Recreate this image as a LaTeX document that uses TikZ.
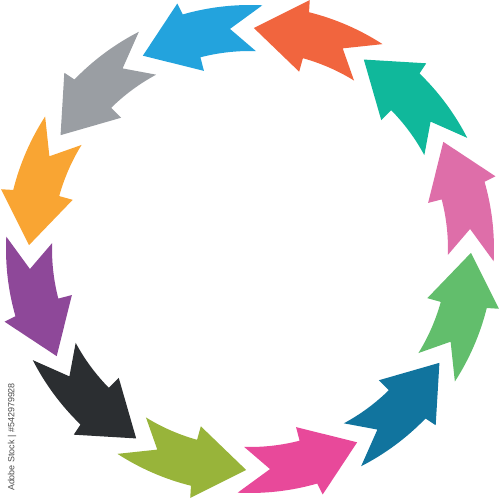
\documentclass[tikz,border=0pt]{standalone}
\usepackage{fontspec}
\setsansfont{Liberation Sans}

\definecolor{cOrchid}{RGB}{222,110,169}
\definecolor{cTeal}{RGB}{16,184,155}
\definecolor{cOrange}{RGB}{241,101,62}
\definecolor{cSky}{RGB}{35,163,221}
\definecolor{cGray}{RGB}{154,158,163}
\definecolor{cAmber}{RGB}{249,165,51}
\definecolor{cPurple}{RGB}{142,72,153}
\definecolor{cDark}{RGB}{43,46,49}
\definecolor{cOlive}{RGB}{152,180,58}
\definecolor{cMagenta}{RGB}{232,73,154}
\definecolor{cPetrol}{RGB}{17,116,158}
\definecolor{cGreen}{RGB}{98,190,108}

\begin{document}
\begin{tikzpicture}[x=0.02cm, y=0.02cm]
	\def\rin{198}
	\def\rout{244}
	\def\rmid{221}
	
	\useasboundingbox (-250,-250) rectangle (250,249);

	% Draw arrows (counterclockwise)
	\foreach \col [count=\i] in {cOrchid,cTeal,cOrange,cSky,cGray,cAmber,cPurple,cDark,cOlive,cMagenta,cPetrol,cGreen} {
		\pgfmathsetmacro{\T}{30*\i-1}
		\fill[\col] (\T:\rmid) -- ({\T-12.5}:256) -- ({\T-13}:\rout)
			arc[start angle=\T-13, end angle=\T-31.9, radius=\rout]
			-- ({\T-23.8}:\rmid) -- ({\T-30.7}:\rin)
			arc[start angle=\T-30.7, end angle=\T-14.5, radius=\rin]
			-- ({\T-14.5}:184) -- cycle;
	}

	% Label
	\node[rotate=90, text=black!70, font=\sffamily\fontsize{5.1}{6}\selectfont] (stock) at (-238,-188) {Adobe Stock | \#542979928};
\end{tikzpicture}
\end{document}
